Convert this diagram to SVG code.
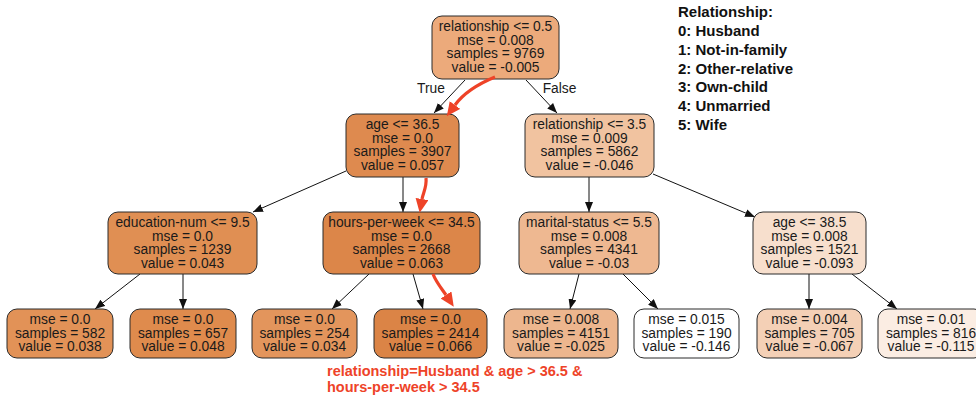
<svg xmlns="http://www.w3.org/2000/svg" width="976" height="398" viewBox="0 0 976 398">
<style>
.n rect{stroke:#2b2b2b;stroke-width:1}
.n text{font-family:"Liberation Sans",Arial,sans-serif;font-size:13.8px;fill:#1a1a1a;text-anchor:middle}
.e{stroke:#111;stroke-width:1;fill:none;marker-end:url(#ah)}
.r{stroke:#ee4328;stroke-width:3.2;fill:none;marker-end:url(#rh)}
.lbl{font-family:"Liberation Sans",Arial,sans-serif;font-size:13.8px;fill:#1a1a1a;text-anchor:middle}
.leg{font-family:"Liberation Sans",Arial,sans-serif;font-size:15px;font-weight:bold;fill:#111}
.note{font-family:"Liberation Sans",Arial,sans-serif;font-size:14.5px;font-weight:bold;fill:#ee4328}
</style>
<defs>
<marker id="ah" markerUnits="userSpaceOnUse" viewBox="0 0 10 8" refX="10" refY="4" markerWidth="10" markerHeight="8" orient="auto"><path d="M0,0 L10,4 L0,8 z" fill="#111"/></marker>
<marker id="rh" markerUnits="userSpaceOnUse" viewBox="0 0 14 13" refX="0" refY="6.5" markerWidth="14" markerHeight="13" orient="auto"><path d="M0,0 L14,6.5 L0,13 z" fill="#ee4328"/></marker>
</defs>
<g id="edges">
<line class="e" x1="465" y1="80" x2="434" y2="113"/>
<line class="e" x1="526" y1="80" x2="557" y2="113"/>
<line class="e" x1="346" y1="171" x2="253" y2="212"/>
<line class="e" x1="403" y1="177" x2="403" y2="212"/>
<line class="e" x1="589" y1="177" x2="589" y2="212"/>
<line class="e" x1="653" y1="174" x2="755" y2="217"/>
<line class="e" x1="140" y1="274" x2="95" y2="309"/>
<line class="e" x1="183" y1="274" x2="183" y2="309"/>
<line class="e" x1="369" y1="274" x2="332" y2="309"/>
<line class="e" x1="413" y1="274" x2="423" y2="309"/>
<line class="e" x1="579" y1="274" x2="570" y2="309"/>
<line class="e" x1="623" y1="274" x2="658" y2="309"/>
<line class="e" x1="809" y1="274" x2="809" y2="309"/>
<line class="e" x1="852" y1="274" x2="897" y2="309"/>
<text class="lbl" x="431" y="93">True</text>
<text class="lbl" x="559.5" y="93">False</text>
</g>
<g id="n0" class="n"><rect x="432" y="16" width="127" height="63" rx="10" fill="#ecaa7b"/>
<text x="495.5" y="31">relationship &lt;= 0.5</text><text x="495.5" y="44.5">mse = 0.008</text><text x="495.5" y="58">samples = 9769</text><text x="495.5" y="71.5">value = -0.005</text></g>
<g id="n1" class="n"><rect x="346" y="114" width="113" height="63" rx="10" fill="#de8a4f"/>
<text x="402.5" y="129">age &lt;= 36.5</text><text x="402.5" y="142.5">mse = 0.0</text><text x="402.5" y="156">samples = 3907</text><text x="402.5" y="169.5">value = 0.057</text></g>
<g id="n2" class="n"><rect x="525" y="114" width="129" height="63" rx="10" fill="#f1c3a0"/>
<text x="589.5" y="129">relationship &lt;= 3.5</text><text x="589.5" y="142.5">mse = 0.009</text><text x="589.5" y="156">samples = 5862</text><text x="589.5" y="169.5">value = -0.046</text></g>
<g id="n3" class="n"><rect x="108" y="212" width="149" height="62" rx="10" fill="#e08f53"/>
<text x="182.5" y="227">education-num &lt;= 9.5</text><text x="182.5" y="240.5">mse = 0.0</text><text x="182.5" y="254">samples = 1239</text><text x="182.5" y="267.5">value = 0.043</text></g>
<g id="n4" class="n"><rect x="323" y="212" width="157" height="62" rx="10" fill="#dc8649"/>
<text x="401.5" y="227">hours-per-week &lt;= 34.5</text><text x="401.5" y="240.5">mse = 0.0</text><text x="401.5" y="254">samples = 2668</text><text x="401.5" y="267.5">value = 0.063</text></g>
<g id="n5" class="n"><rect x="519" y="212" width="140" height="62" rx="10" fill="#eeb891"/>
<text x="589" y="227">marital-status &lt;= 5.5</text><text x="589" y="240.5">mse = 0.008</text><text x="589" y="254">samples = 4341</text><text x="589" y="267.5">value = -0.03</text></g>
<g id="n6" class="n"><rect x="753" y="212" width="113" height="62" rx="10" fill="#f7dfcd"/>
<text x="809.5" y="227">age &lt;= 38.5</text><text x="809.5" y="240.5">mse = 0.008</text><text x="809.5" y="254">samples = 1521</text><text x="809.5" y="267.5">value = -0.093</text></g>
<g id="n7" class="n"><rect x="7" y="309" width="106" height="49" rx="10" fill="#e29257"/>
<text x="60" y="324">mse = 0.0</text><text x="60" y="337.5">samples = 582</text><text x="60" y="351">value = 0.038</text></g>
<g id="n8" class="n"><rect x="130" y="309" width="106" height="49" rx="10" fill="#df8b4d"/>
<text x="183" y="324">mse = 0.0</text><text x="183" y="337.5">samples = 657</text><text x="183" y="351">value = 0.048</text></g>
<g id="n9" class="n"><rect x="252" y="309" width="105" height="49" rx="10" fill="#e3955c"/>
<text x="304.5" y="324">mse = 0.0</text><text x="304.5" y="337.5">samples = 254</text><text x="304.5" y="351">value = 0.034</text></g>
<g id="n10" class="n"><rect x="374" y="309" width="113" height="49" rx="10" fill="#db8446"/>
<text x="430.5" y="324">mse = 0.0</text><text x="430.5" y="337.5">samples = 2414</text><text x="430.5" y="351">value = 0.066</text></g>
<g id="n11" class="n"><rect x="504" y="309" width="114" height="49" rx="10" fill="#edb68e"/>
<text x="561" y="324">mse = 0.008</text><text x="561" y="337.5">samples = 4151</text><text x="561" y="351">value = -0.025</text></g>
<g id="n12" class="n"><rect x="634" y="309" width="105" height="49" rx="10" fill="#ffffff"/>
<text x="686.5" y="324">mse = 0.015</text><text x="686.5" y="337.5">samples = 190</text><text x="686.5" y="351">value = -0.146</text></g>
<g id="n13" class="n"><rect x="757" y="309" width="105" height="49" rx="10" fill="#f4d0b6"/>
<text x="809.5" y="324">mse = 0.004</text><text x="809.5" y="337.5">samples = 705</text><text x="809.5" y="351">value = -0.067</text></g>
<g id="n14" class="n"><rect x="878" y="309" width="106" height="49" rx="10" fill="#fbede3"/>
<text x="931" y="324">mse = 0.01</text><text x="931" y="337.5">samples = 816</text><text x="931" y="351">value = -0.115</text></g>
<g id="highlight">
<path class="r" d="M495,77 C478,84 463,94 455,105"/>
<path class="r" d="M426,178 C427,187 423,193 422,199"/>
<path class="r" d="M433,274 C436,282 442,289 446,295"/>
<text class="note" x="327" y="376">relationship=Husband &amp; age &gt; 36.5 &amp;</text>
<text class="note" x="327" y="392">hours-per-week &gt; 34.5</text>
</g>
<g id="legend">
<text class="leg" x="678" y="16.5">Relationship:</text>
<text class="leg" x="678" y="35.5">0: Husband</text>
<text class="leg" x="678" y="54.5">1: Not-in-family</text>
<text class="leg" x="678" y="73.5">2: Other-relative</text>
<text class="leg" x="678" y="92">3: Own-child</text>
<text class="leg" x="678" y="111">4: Unmarried</text>
<text class="leg" x="678" y="130">5: Wife</text>
</g>
</svg>
